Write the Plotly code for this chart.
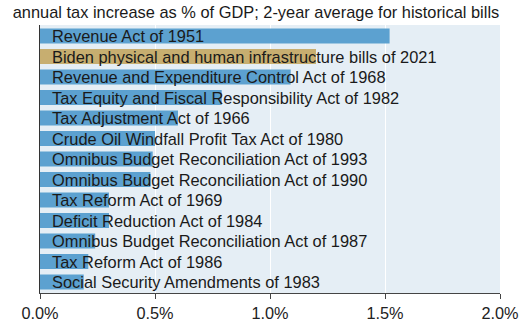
import plotly.graph_objects as go

# Tax bills ranked by annual revenue increase (% of GDP)
bills = [
    "Revenue Act of 1951",
    "Biden physical and human infrastructure bills of 2021",
    "Revenue and Expenditure Control Act of 1968",
    "Tax Equity and Fiscal Responsibility Act of 1982",
    "Tax Adjustment Act of 1966",
    "Crude Oil Windfall Profit Tax Act of 1980",
    "Omnibus Budget Reconciliation Act of 1993",
    "Omnibus Budget Reconciliation Act of 1990",
    "Tax Reform Act of 1969",
    "Deficit Reduction Act of 1984",
    "Omnibus Budget Reconciliation Act of 1987",
    "Tax Reform Act of 1986",
    "Social Security Amendments of 1983",
]
pct_gdp = [1.52, 1.20, 1.09, 0.79, 0.60, 0.50, 0.49, 0.48, 0.30, 0.30, 0.24, 0.21, 0.19]
highlight = "Biden physical and human infrastructure bills of 2021"

tick_vals = [0.0, 0.5, 1.0, 1.5, 2.0]
tick_text = ["0.0%", "0.5%", "1.0%", "1.5%", "2.0%"]

BLUE = "#5ca1d0"
GOLD = "#c7ae70"
colors = [GOLD if b == highlight else BLUE for b in bills]

FONT = "Liberation Sans, Arial, sans-serif"

fig = go.Figure(
    go.Bar(
        x=pct_gdp,
        y=bills,
        orientation="h",
        marker=dict(color=colors, line=dict(width=0)),
        hoverinfo="x+y",
    )
)

# Bill names written over the bars, starting from the baseline
for b in bills:
    fig.add_annotation(
        x=0, y=b, xref="x", yref="y",
        text=b, showarrow=False,
        xanchor="left", xshift=10,
        font=dict(family=FONT, size=16.4, color="#1a1a1a"),
    )

fig.update_layout(
    width=522, height=324,
    margin=dict(l=40, r=22, t=25, b=31, autoexpand=False),
    paper_bgcolor="white",
    plot_bgcolor="#e5eef5",
    bargap=0.26,
    showlegend=False,
    font=dict(family=FONT, color="#222222"),
    title=dict(
        text="annual tax increase as % of GDP; 2-year average for historical bills",
        x=256 / 522, xref="container", xanchor="center",
        y=1 - 12 / 324, yref="container", yanchor="middle",
        font=dict(size=16.4, color="#1a1a1a"),
        pad=dict(t=0, b=0, l=0, r=0),
    ),
)

fig.update_xaxes(
    range=[0, 2.0],
    tickvals=tick_vals, ticktext=tick_text,
    showgrid=True, gridcolor="white", gridwidth=1,
    zeroline=False,
    showline=True, linecolor="#444444", linewidth=1.2,
    ticks="outside", ticklen=5, tickcolor="#444444", tickwidth=1.2,
    tickfont=dict(size=16.3, color="#222222"),
    automargin=False,
    fixedrange=True,
)
fig.update_yaxes(
    autorange="reversed",
    showticklabels=False,
    showgrid=False,
    showline=True, linecolor="#333333", linewidth=1.2,
    ticks="",
    automargin=False,
    fixedrange=True,
)

fig.write_html("out.html")
